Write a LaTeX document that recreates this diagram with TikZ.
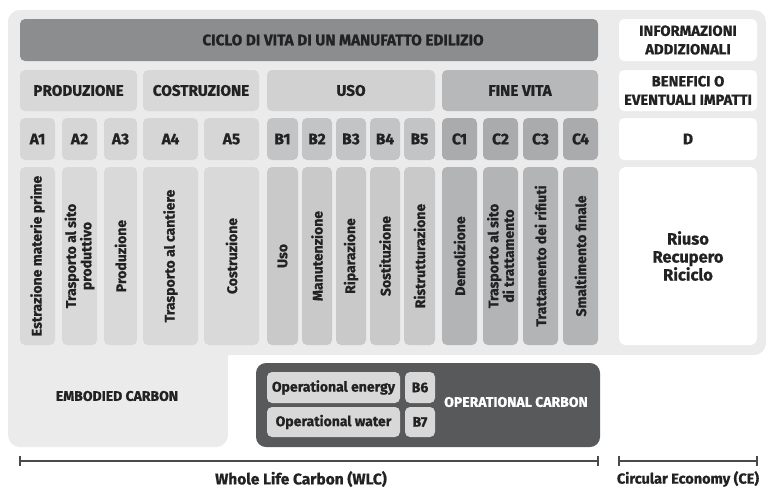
\documentclass[tikz,border=0pt]{standalone}
\usepackage{fontspec}
\setmainfont[BoldFeatures={FakeBold=0.8}]{Fira Sans}
\definecolor{bg}{HTML}{EBEBEC}
\definecolor{titlec}{HTML}{8B8D8F}
\definecolor{grpA}{HTML}{D8D8D9}
\definecolor{grpB}{HTML}{D1D1D2}
\definecolor{grpC}{HTML}{B7B8BA}
\definecolor{codA}{HTML}{D6D6D7}
\definecolor{codB}{HTML}{C3C4C6}
\definecolor{codC}{HTML}{AAABAD}
\definecolor{verA}{HTML}{D9D9DA}
\definecolor{verB}{HTML}{C9C9CA}
\definecolor{verC}{HTML}{B3B4B6}
\definecolor{opdark}{HTML}{58595B}
\definecolor{txt}{HTML}{222222}
\definecolor{linec}{HTML}{4A4A4C}
\tikzset{
  box/.style={rounded corners=5pt, inner sep=0pt, font=\bfseries, text=txt, align=center},
  hdr/.style={box, font=\fontsize{15.3}{18}\selectfont\bfseries},
  rhdr/.style={box, font=\fontsize{14.8}{18.5}\selectfont\bfseries},
  code/.style={box, font=\fontsize{15.5}{18}\selectfont\bfseries},
  small/.style={box, font=\fontsize{14}{16}\selectfont\bfseries},
  vlab/.style={rotate=90, align=center, font=\fontsize{14}{14}\selectfont\bfseries, text=txt, inner sep=0pt},
  scale line/.style={draw=linec, line width=1.4pt},
}
\newcommand\cell[7]{\node[#7, fill=#6, minimum width=#4pt, minimum height=#5pt] (#1) at (#2,#3) {};}
\begin{document}
\begin{tikzpicture}[x=1pt,y=-1pt]
\useasboundingbox (0,0) rectangle (768,488);
\fill[white] (0,0) rectangle (768,488);
% background
\fill[bg, rounded corners=12pt] (8,10) rectangle (766,355);
\fill[bg, rounded corners=12pt] (8,10) rectangle (228,447);
\fill[bg] (8,300) rectangle (240,355);
\fill[white, rounded corners=10pt] (228,355) rectangle (780,500);
% title
\cell{title}{309}{40}{578}{42}{titlec}{box}
\node[font=\fontsize{15.3}{18}\selectfont\bfseries, text=txt, inner sep=0pt] (titlet) at (343,40) {CICLO DI VITA DI UN MANUFATTO EDILIZIO};
% right column
\node[rhdr, fill=white, minimum width=138pt, minimum height=42pt] (info) at (688,40) {INFORMAZIONI\\ADDIZIONALI};
\node[rhdr, fill=white, minimum width=138pt, minimum height=41pt] (bene) at (688,90.5) {BENEFICI O\\EVENTUALI IMPATTI};
\node[code, fill=white, minimum width=138pt, minimum height=42pt] (D) at (688,139) {D};
\node[box, fill=white, minimum width=138pt, minimum height=178pt, rounded corners=7pt, font=\fontsize{16.5}{18}\selectfont\bfseries] (riuso) at (688,256) {Riuso\\Recupero\\Riciclo};
% groups
\node[hdr, fill=grpA, minimum width=117pt, minimum height=41pt] (prod) at (78.5,90.5) {PRODUZIONE};
\node[hdr, fill=grpA, minimum width=116pt, minimum height=41pt] (costr) at (201,90.5) {COSTRUZIONE};
\node[hdr, fill=grpB, minimum width=168pt, minimum height=41pt] (uso) at (351,90.5) {USO};
\node[hdr, fill=grpC, minimum width=156pt, minimum height=41pt] (fine) at (520,90.5) {FINE VITA};
% codes
\node[code, fill=codA, minimum width=35pt, minimum height=42pt] (A1) at (37.5,139) {A1};
\node[code, fill=codA, minimum width=35pt, minimum height=42pt] (A2) at (79.5,139) {A2};
\node[code, fill=codA, minimum width=33pt, minimum height=42pt] (A3) at (120.5,139) {A3};
\node[code, fill=codA, minimum width=55pt, minimum height=42pt] (A4) at (170.5,139) {A4};
\node[code, fill=codA, minimum width=55pt, minimum height=42pt] (A5) at (231.5,139) {A5};
\node[code, fill=codB, minimum width=31pt, minimum height=42pt] (B1) at (282.5,139) {B1};
\node[code, fill=codB, minimum width=30pt, minimum height=42pt] (B2) at (317,139) {B2};
\node[code, fill=codB, minimum width=30pt, minimum height=42pt] (B3) at (351,139) {B3};
\node[code, fill=codB, minimum width=30pt, minimum height=42pt] (B4) at (385,139) {B4};
\node[code, fill=codB, minimum width=31pt, minimum height=42pt] (B5) at (419.5,139) {B5};
\node[code, fill=codC, minimum width=35pt, minimum height=42pt] (C1) at (459.5,139) {C1};
\node[code, fill=codC, minimum width=35pt, minimum height=42pt] (C2) at (500.5,139) {C2};
\node[code, fill=codC, minimum width=35pt, minimum height=42pt] (C3) at (540.5,139) {C3};
\node[code, fill=codC, minimum width=35pt, minimum height=42pt] (C4) at (580.5,139) {C4};
% vertical boxes
\cell{vA1}{37.5}{256}{35}{178}{verA}{box}
\cell{vA2}{79.5}{256}{35}{178}{verA}{box}
\cell{vA3}{120.5}{256}{33}{178}{verA}{box}
\cell{vA4}{170.5}{256}{55}{178}{verA}{box}
\cell{vA5}{231.5}{256}{55}{178}{verA}{box}
\cell{vB1}{282.5}{256}{31}{178}{verB}{box}
\cell{vB2}{317}{256}{30}{178}{verB}{box}
\cell{vB3}{351}{256}{30}{178}{verB}{box}
\cell{vB4}{385}{256}{30}{178}{verB}{box}
\cell{vB5}{419.5}{256}{31}{178}{verB}{box}
\cell{vC1}{459.5}{256}{35}{178}{verC}{box}
\cell{vC2}{500.5}{256}{35}{178}{verC}{box}
\cell{vC3}{540.5}{256}{35}{178}{verC}{box}
\cell{vC4}{580.5}{256}{35}{178}{verC}{box}
\node[vlab] (tA1) at (vA1) {Estrazione materie prime};
\node[vlab] (tA2) at (vA2) {Trasporto al sito\\produttivo};
\node[vlab] (tA3) at (vA3) {Produzione};
\node[vlab] (tA4) at (vA4) {Trasporto al cantiere};
\node[vlab] (tA5) at (vA5) {Costruzione};
\node[vlab] (tB1) at (vB1) {Uso};
\node[vlab] (tB2) at (vB2) {Manutenzione};
\node[vlab] (tB3) at (vB3) {Riparazione};
\node[vlab] (tB4) at (vB4) {Sostituzione};
\node[vlab] (tB5) at (vB5) {Ristrutturazione};
\node[vlab] (tC1) at (vC1) {Demolizione};
\node[vlab] (tC2) at (vC2) {Trasporto al sito\\di trattamento};
\node[vlab] (tC3) at (vC3) {Trattamento dei rifiuti};
\node[vlab] (tC4) at (vC4) {Smaltimento finale};
% embodied
\node[font=\fontsize{14}{16}\selectfont\bfseries, text=txt] (emb) at (117,396) {EMBODIED CARBON};
% operational
\node[fill=opdark, rounded corners=10pt, minimum width=344pt, minimum height=84pt, inner sep=0pt] (opbox) at (428,405) {};
\node[small, fill=grpA, minimum width=133pt, minimum height=31pt] (oen) at (333.5,387.5) {Operational energy};
\node[small, fill=grpA, minimum width=133pt, minimum height=30pt] (owa) at (333.5,422) {Operational water};
\node[small, fill=grpA, minimum width=30pt, minimum height=31pt] (B6) at (420,387.5) {B6};
\node[small, fill=grpA, minimum width=30pt, minimum height=30pt] (B7) at (420,422) {B7};
\node[font=\fontsize{14}{16}\selectfont\bfseries, text=white] (opc) at (516,402) {OPERATIONAL CARBON};
% scales
\coordinate (w0) at (20,461);
\coordinate (w1) at (598,461);
\coordinate (c0) at (619,461);
\coordinate (c1) at (757,461);
\draw[scale line] (w0) -- (w1);
\draw[scale line] ([yshift=-5pt]w0) -- ([yshift=5pt]w0);
\draw[scale line] ([yshift=-5pt]w1) -- ([yshift=5pt]w1);
\draw[scale line] (c0) -- (c1);
\draw[scale line] ([yshift=-5pt]c0) -- ([yshift=5pt]c0);
\draw[scale line] ([yshift=-5pt]c1) -- ([yshift=5pt]c1);
\node[font=\fontsize{15.5}{18}\selectfont\bfseries, text=txt] (wlc) at (301,479) {Whole Life Carbon (WLC)};
\node[font=\fontsize{14.5}{18}\selectfont\bfseries, text=txt] (ce) at (688,479) {Circular Economy (CE)};
\end{tikzpicture}
\end{document}
